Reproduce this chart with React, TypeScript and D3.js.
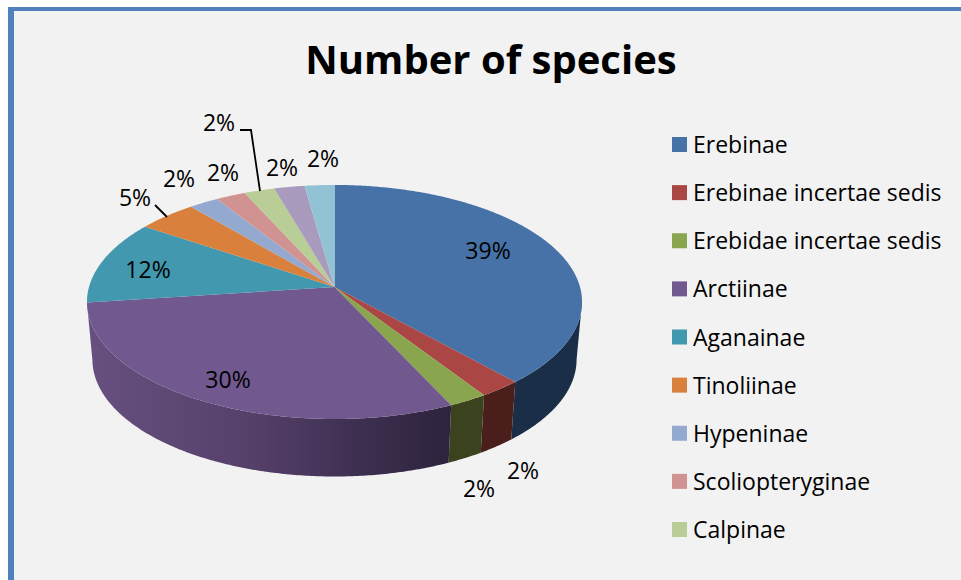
import React from "react";
import * as d3 from "d3";

// ---- data ----
const title = "Number of species";
const legendNames = [
  "Erebinae",
  "Erebinae incertae sedis",
  "Erebidae incertae sedis",
  "Arctiinae",
  "Aganainae",
  "Tinoliinae",
  "Hypeninae",
  "Scoliopteryginae",
  "Calpinae",
];
const sliceValues = [38.4, 2.45, 2.25, 29.8, 11.6, 4.4, 2.2, 2.2, 2.25, 2.25, 2.2];
const sliceLabels = ["39%", "2%", "2%", "30%", "12%", "5%", "2%", "2%", "2%", "2%", "2%"];
const topColors = ["#4672a7", "#aa4643", "#89a54e", "#71588f", "#4198af", "#d9813c", "#93a9cf", "#d19392", "#b9cd96", "#a99bbd", "#92c3d4"];
const sideColors = ["#1a2e47", "#4a1f1b", "#3a421e", "url(#purpleSide)", "#2a5a69", "#8a5020", "#5c6b85", "#855b5b", "#75825d", "#6b6178", "#5c7c87"];

// ---- layout (label anchors, not data) ----
const labelAnchors: [number, number][] = [
  [488, 250], [523, 470], [479, 488], [228, 379], [148, 269], [135, 197], [179, 178], [223, 172], [282, 167], [323, 158], [219, 122],
];
const W = 961;
const H = 580;
const cx = 334.5;
const apexY = 287;
const rimX = 245.5;
const persp = 0.128;
const yScale = 115.1;
const depth = 57.5;
const bottomShrink = 0.978;

const rimPoint = (theta: number): [number, number] => {
  const u = Math.sin(theta);
  const v = -Math.cos(theta);
  const s = 1 / (1 - persp * v);
  return [cx + rimX * u * s, apexY + yScale * v * s];
};
const bottomPoint = (theta: number): [number, number] => {
  const [x, y] = rimPoint(theta);
  return [cx + (x - cx) * bottomShrink, y + depth];
};

const arcs = d3.pie<number>().sort(null).startAngle(0).endAngle(2 * Math.PI)(sliceValues);
const line = d3.line();
const visibleFrom = (97.4 * Math.PI) / 180;
const visibleTo = (262.6 * Math.PI) / 180;

const topPath = (a0: number, a1: number) => {
  const n = Math.max(2, Math.ceil((a1 - a0) / 0.01));
  const pts = d3.range(n + 1).map((i) => rimPoint(a0 + ((a1 - a0) * i) / n));
  return line([[cx, apexY], ...pts]) + "Z";
};
const sidePath = (a0: number, a1: number) => {
  const s = Math.max(a0, visibleFrom);
  const e = Math.min(a1, visibleTo);
  if (e <= s) return null;
  const n = Math.max(2, Math.ceil((e - s) / 0.01));
  const ts = d3.range(n + 1).map((i) => s + ((e - s) * i) / n);
  return line([...ts.map(rimPoint), ...ts.slice().reverse().map(bottomPoint)]) + "Z";
};

const legendY = d3.scalePoint<string>().domain(legendNames).range([143, 528]);
const font = "'Open Sans', Lato, sans-serif";

export default function App() {
  return (
    <svg width={W} height={H} style={{ position: "absolute", left: 0, top: 0 }} fontFamily={font}>
      <defs>
        <linearGradient id="purpleSide" gradientUnits="userSpaceOnUse" x1={87} x2={452} y1={0} y2={0}>
          <stop offset="0" stopColor="#67507f" />
          <stop offset="0.45" stopColor="#55406a" />
          <stop offset="0.75" stopColor="#3d2f50" />
          <stop offset="1" stopColor="#2d233d" />
        </linearGradient>
      </defs>
      <rect width={W} height={H} fill="#ffffff" />
      <rect x={8} y={7} width={W} height={H} fill="#4f81bd" />
      <rect x={14} y={11} width={W} height={H} fill="#f2f2f2" />
      <text x={491} y={74} textAnchor="middle" fontSize={40} fontWeight={700} fill="#000">{title}</text>

      {arcs.map((a, i) => {
        const d = sidePath(a.startAngle, a.endAngle);
        return d ? <path key={i} d={d} fill={sideColors[i]} /> : null;
      })}
      {arcs.map((a, i) => (
        <path key={i} d={topPath(a.startAngle, a.endAngle)} fill={topColors[i]} />
      ))}

      <path d={line([[155, 205], [167, 217]])!} stroke="#000" strokeWidth={1.8} fill="none" />
      <path d={line([[240, 130], [251, 130], [260, 191]])!} stroke="#000" strokeWidth={1.8} fill="none" />

      {sliceLabels.map((t, i) => (
        <text key={i} x={labelAnchors[i][0]} y={labelAnchors[i][1]} textAnchor="middle" dominantBaseline="central" fontSize={23} fill="#000">{t}</text>
      ))}

      {legendNames.map((n, i) => (
        <g key={n}>
          <rect x={672} y={legendY(n)! - 6} width={15} height={15} fill={topColors[i]} />
          <text x={693} y={legendY(n)! + 1} dominantBaseline="central" fontSize={23} fill="#000">{n}</text>
        </g>
      ))}
    </svg>
  );
}
